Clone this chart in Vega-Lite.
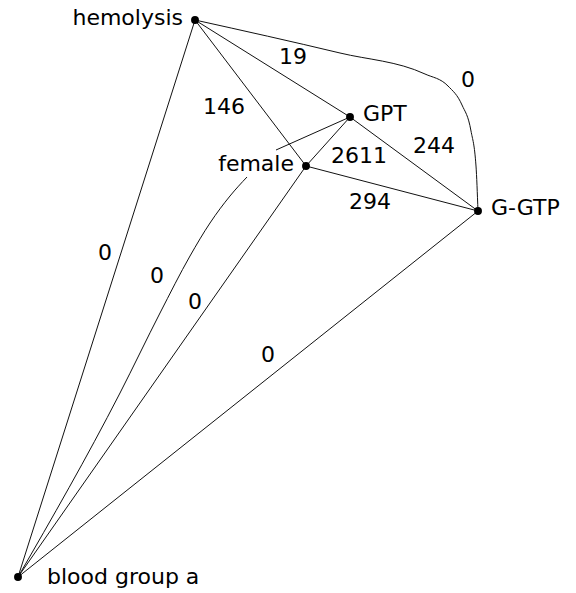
{
  "$schema": "https://vega.github.io/schema/vega-lite/v6.json",
  "width": 576,
  "height": 593,
  "autosize": {"type": "fit", "contains": "padding"},
  "padding": 0,
  "background": "white",
  "config": {"view": {"stroke": null}},
  "datasets": {
    "edges": [
      {"edge": "hemolysis-GPT", "order": 1, "x": 195, "y": 20},
      {"edge": "hemolysis-GPT", "order": 2, "x": 350, "y": 117},
      {"edge": "hemolysis-female", "order": 1, "x": 195, "y": 20},
      {"edge": "hemolysis-female", "order": 2, "x": 306, "y": 166},
      {"edge": "hemolysis-bloodgroup", "order": 1, "x": 18, "y": 577},
      {"edge": "hemolysis-bloodgroup", "order": 2, "x": 195, "y": 20},
      {"edge": "GPT-female", "order": 1, "x": 306, "y": 166},
      {"edge": "GPT-female", "order": 2, "x": 350, "y": 117},
      {"edge": "GPT-GGTP", "order": 1, "x": 350, "y": 117},
      {"edge": "GPT-GGTP", "order": 2, "x": 478, "y": 211},
      {"edge": "female-GGTP", "order": 1, "x": 306, "y": 166},
      {"edge": "female-GGTP", "order": 2, "x": 478, "y": 211},
      {"edge": "female-bloodgroup", "order": 1, "x": 18, "y": 577},
      {"edge": "female-bloodgroup", "order": 2, "x": 306, "y": 166},
      {"edge": "GGTP-bloodgroup", "order": 1, "x": 18, "y": 577},
      {"edge": "GGTP-bloodgroup", "order": 2, "x": 478, "y": 211},
      {"edge": "hemolysis-GGTP", "order": 1, "x": 195, "y": 20},
      {"edge": "hemolysis-GGTP", "order": 2, "x": 340, "y": 53},
      {"edge": "hemolysis-GGTP", "order": 3, "x": 425, "y": 74},
      {"edge": "hemolysis-GGTP", "order": 4, "x": 448, "y": 86},
      {"edge": "hemolysis-GGTP", "order": 5, "x": 462, "y": 105},
      {"edge": "hemolysis-GGTP", "order": 6, "x": 471, "y": 131},
      {"edge": "hemolysis-GGTP", "order": 7, "x": 476, "y": 166},
      {"edge": "hemolysis-GGTP", "order": 8, "x": 478, "y": 211},
      {"edge": "GPT-bloodgroup-a", "order": 1, "x": 18, "y": 577},
      {"edge": "GPT-bloodgroup-a", "order": 2, "x": 120, "y": 393},
      {"edge": "GPT-bloodgroup-a", "order": 3, "x": 160, "y": 313},
      {"edge": "GPT-bloodgroup-a", "order": 4, "x": 190, "y": 256},
      {"edge": "GPT-bloodgroup-a", "order": 5, "x": 210, "y": 223},
      {"edge": "GPT-bloodgroup-a", "order": 6, "x": 230, "y": 196},
      {"edge": "GPT-bloodgroup-a", "order": 7, "x": 247, "y": 177},
      {"edge": "GPT-bloodgroup-b", "order": 1, "x": 276, "y": 150},
      {"edge": "GPT-bloodgroup-b", "order": 2, "x": 350, "y": 117}
    ],
    "nodes": [
      {"name": "hemolysis", "x": 195, "y": 20, "side": "left"},
      {"name": "GPT", "x": 350, "y": 117, "side": "right"},
      {"name": "female", "x": 306, "y": 166, "side": "left"},
      {"name": "G-GTP", "x": 478, "y": 211, "side": "right"},
      {"name": "blood group a", "x": 18, "y": 577, "side": "far"}
    ],
    "edgeLabels": [
      {"weight": "19", "x": 293, "y": 57},
      {"weight": "146", "x": 224, "y": 107},
      {"weight": "0", "x": 468, "y": 80},
      {"weight": "2611", "x": 359, "y": 156},
      {"weight": "244", "x": 434, "y": 146},
      {"weight": "294", "x": 370, "y": 202},
      {"weight": "0", "x": 105, "y": 253},
      {"weight": "0", "x": 157, "y": 276},
      {"weight": "0", "x": 195, "y": 302},
      {"weight": "0", "x": 268, "y": 355}
    ]
  },
  "layer": [
    {
      "data": {"name": "edges"},
      "mark": {"type": "line", "interpolate": "monotone", "color": "#111111", "strokeWidth": 1},
      "encoding": {
        "x": {"field": "x", "type": "quantitative", "scale": {"domain": [0, 576], "nice": false, "zero": false}, "axis": null},
        "y": {"field": "y", "type": "quantitative", "scale": {"domain": [0, 593], "nice": false, "zero": false, "reverse": true}, "axis": null},
        "detail": {"field": "edge"},
        "order": {"field": "order"}
      }
    },
    {
      "data": {"name": "nodes"},
      "mark": {"type": "circle", "color": "black", "opacity": 1, "size": 62},
      "encoding": {
        "x": {"field": "x", "type": "quantitative"},
        "y": {"field": "y", "type": "quantitative"}
      }
    },
    {
      "data": {"name": "nodes"},
      "transform": [{"filter": "datum.side === 'left'"}],
      "mark": {"type": "text", "align": "right", "baseline": "middle", "dx": -12, "dy": -2, "font": "DejaVu Sans", "fontSize": 22, "color": "black"},
      "encoding": {
        "x": {"field": "x", "type": "quantitative"},
        "y": {"field": "y", "type": "quantitative"},
        "text": {"field": "name"}
      }
    },
    {
      "data": {"name": "nodes"},
      "transform": [{"filter": "datum.side === 'right'"}],
      "mark": {"type": "text", "align": "left", "baseline": "middle", "dx": 13, "dy": -3, "font": "DejaVu Sans", "fontSize": 22, "color": "black"},
      "encoding": {
        "x": {"field": "x", "type": "quantitative"},
        "y": {"field": "y", "type": "quantitative"},
        "text": {"field": "name"}
      }
    },
    {
      "data": {"name": "nodes"},
      "transform": [{"filter": "datum.side === 'far'"}],
      "mark": {"type": "text", "align": "left", "baseline": "middle", "dx": 29, "dy": 0, "font": "DejaVu Sans", "fontSize": 22, "color": "black"},
      "encoding": {
        "x": {"field": "x", "type": "quantitative"},
        "y": {"field": "y", "type": "quantitative"},
        "text": {"field": "name"}
      }
    },
    {
      "data": {"name": "edgeLabels"},
      "mark": {"type": "text", "align": "center", "baseline": "middle", "font": "DejaVu Sans", "fontSize": 22, "color": "black"},
      "encoding": {
        "x": {"field": "x", "type": "quantitative"},
        "y": {"field": "y", "type": "quantitative"},
        "text": {"field": "weight"}
      }
    }
  ]
}
